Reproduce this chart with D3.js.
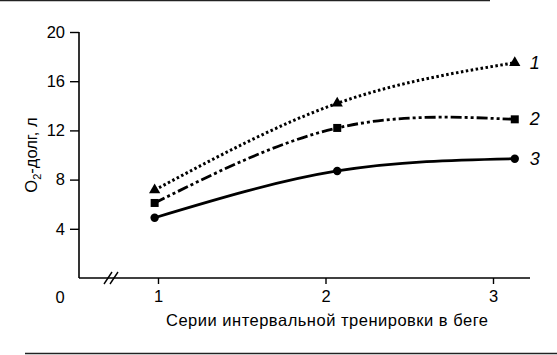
<!DOCTYPE html>
<html><head><meta charset="utf-8">
<script src="https://cdn.jsdelivr.net/npm/d3@7"></script>
<style>
html,body{margin:0;padding:0;background:#fff;}
svg{display:block;font-family:"Liberation Sans",Arial,sans-serif;}
</style></head><body>
<script>
// Data
const xTicks = [1, 2, 3];
const yTicks = [4, 8, 12, 16, 20];
const seriesNames = ["1", "2", "3"];
const xPoints = [0.98, 2.07, 3.13];
const series1 = [7.15, 14.2, 17.5];
const series2 = [6.1, 12.2, 12.9];
const series3 = [4.9, 8.7, 9.7];
const yLabel = "-долг, л";
const xLabel = "Серии интервальной тренировки в беге";

const W = 557, H = 355;
const FF = "Liberation Sans, Arial, sans-serif";
const svg = d3.select("body").append("svg").attr("width", W).attr("height", H);

const x = d3.scaleLinear().domain([1, 3]).range([158, 493]);
const y = d3.scaleLinear().domain([0, 20]).range([278, 32]);
const x0 = 79;

// scan frame lines
svg.append("line").attr("x1", 0).attr("x2", 490).attr("y1", 0.5).attr("y2", 0.5).attr("stroke", "#222").attr("stroke-width", 1.5);
svg.append("line").attr("x1", 25).attr("x2", 557).attr("y1", 353.5).attr("y2", 353.5).attr("stroke", "#222").attr("stroke-width", 1.5);

// Y axis
const yAxis = d3.axisLeft(y).tickValues(yTicks).tickSize(9).tickSizeOuter(0).tickPadding(5);
const gy = svg.append("g").attr("transform", `translate(${x0},0)`).call(yAxis)
  .attr("font-size", 16.5).attr("font-family", FF);
gy.select(".domain").attr("d", `M0,${y(20)}V${y(0)}`).attr("stroke", "#000").attr("stroke-width", 1.6);
gy.selectAll(".tick line").attr("stroke", "#000").attr("stroke-width", 1.4);
gy.selectAll(".tick text").attr("fill", "#000");

// X axis
const xAxis = d3.axisBottom(x).tickValues(xTicks).tickSize(6).tickSizeOuter(0).tickPadding(6).tickFormat(d3.format("d"));
const gx = svg.append("g").attr("transform", `translate(0,${y(0)})`).call(xAxis)
  .attr("font-size", 16.5).attr("font-family", FF);
gx.select(".domain").attr("d", `M${x0},0H530`).attr("stroke", "#000").attr("stroke-width", 1.6);
gx.selectAll(".tick line").attr("stroke", "#000").attr("stroke-width", 1.4);
gx.selectAll(".tick text").attr("fill", "#000");

// break marks
const yb = y(0);
[104, 110].forEach(bx => {
  svg.append("line").attr("x1", bx).attr("y1", yb + 6).attr("x2", bx + 8).attr("y2", yb - 6)
    .attr("stroke", "#000").attr("stroke-width", 1.4);
});

// origin label
svg.append("text").attr("x", 60).attr("y", 303).attr("text-anchor", "middle")
  .attr("font-size", 16.5).text("0");

// Axis titles
const yt = svg.append("text").attr("transform", "translate(37,155) rotate(-90)")
  .attr("text-anchor", "middle").attr("font-size", 16.5);
yt.append("tspan").text("O");
yt.append("tspan").attr("font-size", 11).attr("dy", 4).text("2");
yt.append("tspan").attr("dy", -4).text(yLabel);

svg.append("text").attr("x", 327).attr("y", 326).attr("text-anchor", "middle")
  .attr("font-size", 16.5).attr("textLength", 322).attr("lengthAdjust", "spacing").text(xLabel);

// Lines
const line = d3.line().x(d => x(d[0])).y(d => y(d[1])).curve(d3.curveNatural);
const data = [series1, series2, series3].map(s => s.map((v, i) => [xPoints[i], v]));
const dashes = ["2.5,2.5", "11,3,3,3,3,3", null];
const widths = [3, 2.8, 2.8];
data.forEach((d, i) => {
  const p = svg.append("path").datum(d).attr("d", line).attr("fill", "none")
    .attr("stroke", "#000").attr("stroke-width", widths[i]);
  if (dashes[i]) p.attr("stroke-dasharray", dashes[i]);
});

// Markers
const tri = d3.symbol().type(d3.symbolTriangle).size(55);
svg.selectAll(".m1").data(data[0]).join("path")
  .attr("transform", d => `translate(${x(d[0])},${y(d[1])})`).attr("d", tri).attr("fill", "#000");
svg.selectAll(".m2").data(data[1]).join("rect")
  .attr("x", d => x(d[0]) - 4).attr("y", d => y(d[1]) - 4).attr("width", 8).attr("height", 8).attr("fill", "#000");
svg.selectAll(".m3").data(data[2]).join("circle")
  .attr("cx", d => x(d[0])).attr("cy", d => y(d[1])).attr("r", 4.2).attr("fill", "#000");

// Series labels
data.forEach((d, i) => {
  const last = d[d.length - 1];
  svg.append("text").attr("x", x(last[0]) + 15).attr("y", y(last[1]) + 6)
    .attr("font-size", 18).attr("font-style", "italic").text(seriesNames[i]);
});
</script>
</body></html>
